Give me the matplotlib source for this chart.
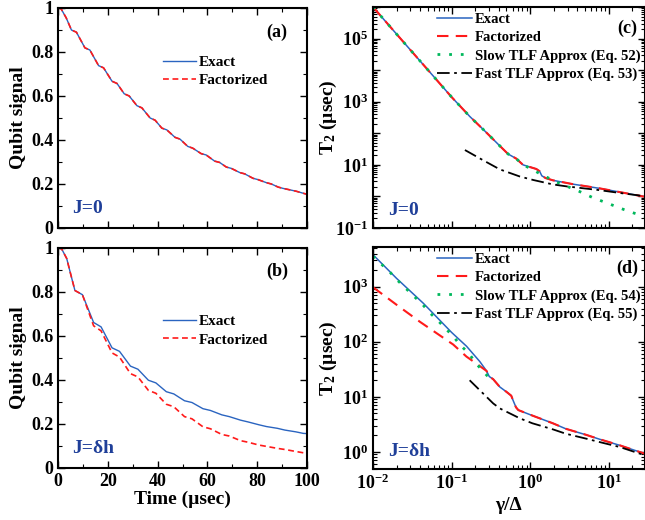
import numpy as np
import matplotlib
matplotlib.use("Agg")
import matplotlib.pyplot as plt
from matplotlib.ticker import MultipleLocator, FuncFormatter, LogLocator, NullFormatter

plt.rcParams["font.family"] = ["Liberation Serif", "DejaVu Serif"]
plt.rcParams["font.weight"] = "bold"
plt.rcParams["axes.labelweight"] = "bold"
plt.rcParams["mathtext.fontset"] = "custom"
plt.rcParams["mathtext.rm"] = "Liberation Serif:bold"
plt.rcParams["mathtext.bf"] = "Liberation Serif:bold"
plt.rcParams["mathtext.it"] = "Liberation Serif:bold:italic"

# ---- panel (a): J=0, qubit signal vs time ----
t_a = [0, 1.2, 3.3, 5.4, 7.4, 10.8, 12.8, 16.3, 18.3, 21.7, 23.7, 26.6, 28.6, 31.7, 33.7,
       37.0, 39.0, 41.7, 43.7, 47.0, 49.0, 52.1, 54.1, 57.5, 59.5, 62.9, 64.9, 67.6, 69.6,
       73.0, 75.0, 78.3, 80.3, 83.7, 85.7, 88.4, 90.4, 93.7, 95.7, 100]
sig_a_exact = [1.0, 0.997, 0.955, 0.900, 0.890, 0.819, 0.809, 0.738, 0.728, 0.667, 0.657,
               0.610, 0.600, 0.556, 0.546, 0.500, 0.490, 0.454, 0.446, 0.412, 0.404, 0.371,
               0.363, 0.338, 0.332, 0.304, 0.298, 0.277, 0.271, 0.252, 0.246, 0.226, 0.220,
               0.206, 0.200, 0.186, 0.180, 0.172, 0.167, 0.153]
sig_a_fact = sig_a_exact  # curves coincide for J=0

# ---- panel (b): J=dh ----
t_b = [0, 1.5, 3.5, 5.3, 6.8, 9.8, 14.3, 17.3, 21.7, 24.7, 29.1, 32.1, 36.3, 39.3, 43.5,
       46.5, 50.8, 53.8, 58.2, 61.2, 65.8, 68.8, 73.3, 76.3, 80.7, 83.7, 88.1, 91.1, 95.5,
       98.5, 100]
sig_b_exact = [1.0, 0.993, 0.95, 0.87, 0.805, 0.786, 0.660, 0.640, 0.545, 0.529, 0.462,
               0.448, 0.398, 0.386, 0.346, 0.336, 0.305, 0.297, 0.269, 0.261, 0.241, 0.233,
               0.217, 0.209, 0.196, 0.188, 0.180, 0.172, 0.164, 0.157, 0.156]
sig_b_fact = [1.0, 0.993, 0.95, 0.87, 0.805, 0.786, 0.645, 0.622, 0.522, 0.503, 0.428,
              0.413, 0.352, 0.339, 0.289, 0.278, 0.233, 0.223, 0.187, 0.178, 0.152, 0.145,
              0.124, 0.117, 0.104, 0.098, 0.089, 0.084, 0.075, 0.069, 0.066]

# ---- panel (c): T2 vs gamma/Delta, J=0 ----
g_c = [0.01, 0.0243, 0.0646, 0.1, 0.171, 0.27, 0.411, 0.525, 0.661, 0.813, 1.0, 1.2,
       1.32, 1.41, 1.58, 1.95, 3.5, 7.67, 16.7, 28.6]
T2_c_exact = [1.0e6, 7.9e4, 4.9e3, 1410, 339, 113, 40, 22, 16, 10, 8.5, 7.4,
              6.3, 4.5, 3.8, 3.24, 2.45, 1.8, 1.26, 0.98]
T2_c_fact = T2_c_exact  # coincides with exact
g_c_slow = [0.01, 0.0243, 0.0646, 0.1, 0.171, 0.27, 0.411, 0.525, 0.661, 0.813, 1.1,
            1.41, 1.95, 2.26, 3.98, 6.31, 10, 15.8, 28.2]
T2_c_slow = [1.0e6, 7.9e4, 4.9e3, 1410, 339, 113, 40, 22, 16, 10, 6.9,
             4.8, 3.3, 2.72, 1.55, 0.91, 0.59, 0.38, 0.23]
g_c_fast = [0.148, 0.251, 0.411, 0.741, 1.10, 1.95, 2.88, 7.67, 13.8, 28.6]
T2_c_fast = [29.5, 14.1, 7.2, 4.27, 3.31, 2.4, 2.09, 1.58, 1.29, 1.02]

# ---- panel (d): T2 vs gamma/Delta, J=dh ----
g_d = [0.01, 0.02, 0.0437, 0.1, 0.155, 0.229, 0.279, 0.302, 0.339, 0.412, 0.501, 0.575,
       0.61, 0.661, 0.708, 1.07, 1.95, 2.85, 5.19, 7.67, 13.8, 28.8]
T2_d_exact = [3800, 1410, 500, 148, 83, 43.7, 29.5, 23.4, 20.9, 15.1, 12.3, 10.5,
              8.5, 6.46, 5.75, 4.57, 3.31, 2.63, 2.04, 1.70, 1.32, 0.93]
g_d_fact = [0.01, 0.02, 0.0398, 0.105, 0.155, 0.209, 0.279, 0.302, 0.339, 0.412, 0.501,
            0.575, 0.61, 0.661, 0.708, 1.07, 1.95, 2.85, 5.19, 7.67, 13.8, 28.8]
T2_d_fact = [977, 468, 229, 89, 53.7, 39.8, 29.5, 23.4, 20.9, 15.1, 12.3,
             10.5, 8.5, 6.46, 5.75, 4.57, 3.31, 2.63, 2.04, 1.70, 1.32, 0.93]
g_d_slow = [0.01, 0.0123, 0.0158, 0.02, 0.0257, 0.0324, 0.042, 0.0525, 0.0676, 0.0851,
            0.105, 0.129, 0.166, 0.204, 0.282, 0.355]
T2_d_slow = [3550, 2690, 1950, 1350, 955, 692, 490, 339, 240, 170,
             126, 87, 61.7, 40.7, 24.5, 19]
g_d_fast = [0.17, 0.339, 0.411, 0.741, 1.07, 1.95, 2.85, 5.19, 7.67, 13.8, 28.8]
T2_d_fast = [20, 7.6, 6.17, 4.07, 3.31, 2.57, 2.14, 1.74, 1.51, 1.23, 0.87]

BLUE = "#2a64c0"
RED = "#ff1a1a"
GREEN = "#00b85c"
JCOL = "#1f3f99"

fig = plt.figure(figsize=(6.45, 5.20), dpi=100)
W, H = 645.0, 520.0


def add_ax(left, top, right, bottom):
    return fig.add_axes([left / W, 1 - bottom / H, (right - left) / W, (bottom - top) / H])


ax_a = add_ax(58, 8, 307, 228)
ax_b = add_ax(58, 247.5, 307, 468)
ax_c = add_ax(373, 7, 644.5, 228)
ax_d = add_ax(373, 247, 644.5, 469)


def style_ticks(ax):
    ax.tick_params(which="both", direction="in", top=True, right=True, labelsize=13)
    ax.tick_params(which="major", length=5, width=1)
    ax.tick_params(which="minor", length=3, width=0.8)
    for s in ax.spines.values():
        s.set_linewidth(1.5)


def bold_ticklabels(ax):
    for lbl in ax.get_xticklabels() + ax.get_yticklabels():
        lbl.set_fontweight("bold")


# left panels
for ax, t, ex, fa, pl, jl, leg_y in [
    (ax_a, t_a, sig_a_exact, sig_a_fact, "(a)", "J=0", 0.785),
    (ax_b, t_b, sig_b_exact, sig_b_fact, "(b)", "J=\u03b4h", 0.695),
]:
    ax.plot(t, ex, color=BLUE, lw=1.0, label="Exact")
    ax.plot(t, fa, color=RED, lw=1.2, dashes=(3.5, 2.2), label="Factorized")
    ax.set_xlim(0, 100)
    ax.set_ylim(0, 1)
    ax.xaxis.set_major_locator(MultipleLocator(20))
    ax.xaxis.set_minor_locator(MultipleLocator(10))
    ax.yaxis.set_major_locator(MultipleLocator(0.2))
    ax.yaxis.set_minor_locator(MultipleLocator(0.1))
    ax.yaxis.set_major_formatter(FuncFormatter(lambda v, _: f"{v:g}"))
    ax.xaxis.set_major_formatter(FuncFormatter(lambda v, _: f"{v:g}"))
    style_ticks(ax)
    ax.set_ylabel("Qubit signal", fontsize=14, fontweight="bold")
    ax.yaxis.set_label_coords(-0.125, 0.5)
    ax.text(0.88, 0.89, pl, transform=ax.transAxes, ha="center", va="center",
            fontsize=13, fontweight="bold")
    ax.text(0.055, 0.09, jl, transform=ax.transAxes, ha="left", va="center",
            fontsize=14, fontweight="bold", color=JCOL)
    ax.legend(loc="upper left", bbox_to_anchor=(0.42, leg_y), frameon=False,
              prop={"size": 11, "weight": "bold"},
              handlelength=2.2, handletextpad=0.2, labelspacing=0.3,
              borderpad=0, borderaxespad=0)

ax_a.tick_params(labelbottom=False)
ax_b.set_xlabel("Time (\u00b5sec)", fontsize=14, fontweight="bold")
ax_b.xaxis.set_label_coords(0.5, -0.105)


def log_fmt(only_odd):
    def f(v, _):
        e = int(round(np.log10(v)))
        if only_odd and e % 2 == 0:
            return ""
        return r"$\mathbf{10^{%d}}$" % e
    return FuncFormatter(f)


# right panels
for ax, (gx, ex), (gf, fa), (gs, sl), (gq, fs), eqs, pl, jl, ylim, odd in [
    (ax_c, (g_c, T2_c_exact), (g_c, T2_c_fact), (g_c_slow, T2_c_slow),
     (g_c_fast, T2_c_fast), (52, 53), "(c)", "J=0", (0.1, 1.0e6), True),
    (ax_d, (g_d, T2_d_exact), (g_d_fact, T2_d_fact), (g_d_slow, T2_d_slow),
     (g_d_fast, T2_d_fast), (54, 55), "(d)", "J=\u03b4h", (0.49, 5250), False),
]:
    ax.plot(gx, ex, color=BLUE, lw=1.1, label="Exact")
    ax.plot(gf, fa, color=RED, lw=1.5, dashes=(5.5, 3.5), label="Factorized")
    ax.plot(gs, sl, color=GREEN, lw=2.0, dashes=(1, 3.2),
            label=f"Slow TLF Approx (Eq. {eqs[0]})")
    ax.plot(gq, fs, color="black", lw=1.3, dashes=(7, 2.5, 1.5, 2.5),
            label=f"Fast TLF Approx (Eq. {eqs[1]})")
    ax.set_xscale("log")
    ax.set_yscale("log")
    ax.set_xlim(0.01, 28.6)
    ax.set_ylim(*ylim)
    for axis in (ax.xaxis, ax.yaxis):
        axis.set_major_locator(LogLocator(base=10, numticks=20))
        axis.set_minor_locator(LogLocator(base=10, subs=range(2, 10), numticks=20))
        axis.set_minor_formatter(NullFormatter())
    ax.xaxis.set_major_formatter(log_fmt(False))
    ax.yaxis.set_major_formatter(log_fmt(odd))
    style_ticks(ax)
    ax.set_ylabel("T$_{\\mathbf{2}}$ (\u00b5sec)", fontsize=14, fontweight="bold")
    ax.yaxis.set_label_coords(-0.125, 0.5)
    ax.text(0.935, 0.905, pl, transform=ax.transAxes, ha="center", va="center",
            fontsize=13, fontweight="bold")
    ax.text(0.055, 0.08, jl, transform=ax.transAxes, ha="left", va="center",
            fontsize=14, fontweight="bold", color=JCOL)
    ax.legend(loc="upper left", bbox_to_anchor=(0.236, 0.975), frameon=False,
              prop={"size": 10.5, "weight": "bold"},
              handlelength=2.4, handletextpad=0.2, labelspacing=0.35,
              borderpad=0, borderaxespad=0)

ax_c.tick_params(labelbottom=False)
ax_d.set_xlabel("\u03b3/\u0394", fontsize=14, fontweight="bold")
ax_d.xaxis.set_label_coords(0.5, -0.125)

for ax in (ax_a, ax_b, ax_c, ax_d):
    bold_ticklabels(ax)

fig.savefig("out.png", dpi=100)
